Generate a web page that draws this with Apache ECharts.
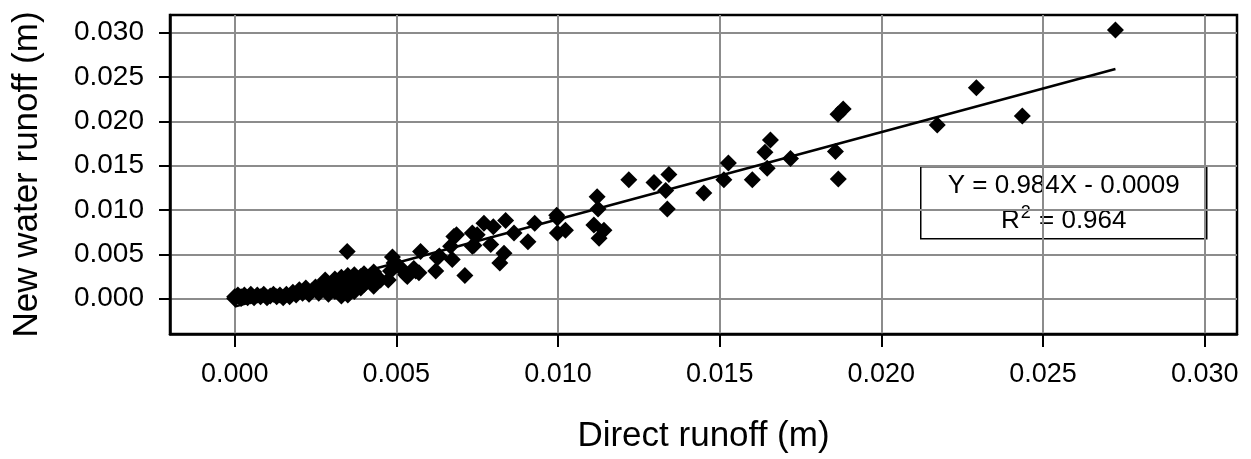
<!DOCTYPE html>
<html>
<head>
<meta charset="utf-8">
<script src="https://cdn.jsdelivr.net/npm/echarts@6.0.0/dist/echarts.min.js"></script>
<style>
  html, body { margin: 0; padding: 0; background: #fff; }
  #chart { width: 1251px; height: 459px; }
</style>
</head>
<body>
<div id="chart"></div>
<script>
// Event runoff depths (m): direct runoff vs. new-water runoff
const directRunoff = [
  0.0000, 0.0000, 0.0001, 0.0002, 0.0002, 0.0003, 0.0004, 0.0005, 0.0005, 0.0006,
  0.0007, 0.0008, 0.0009, 0.0010, 0.0011, 0.0012, 0.0013, 0.0014, 0.0015, 0.0016,
  0.0017, 0.0018, 0.0019, 0.0020, 0.0021, 0.0022, 0.0023, 0.0024, 0.0025, 0.0026,
  0.0027, 0.0028, 0.0028, 0.0029, 0.0030, 0.0031, 0.0031, 0.0032, 0.0033, 0.0033,
  0.0034, 0.0034, 0.0035, 0.0035, 0.0036, 0.0036, 0.0037, 0.0037, 0.0038, 0.0039,
  0.0039, 0.0040, 0.0040, 0.0041, 0.0042, 0.0043, 0.0043, 0.0044,
  0.00348, 0.00451, 0.00475, 0.00431, 0.00482, 0.00488, 0.00493, 0.00510, 0.00529, 0.00534,
  0.00554, 0.00560, 0.00575, 0.00570, 0.00622, 0.00627, 0.00633, 0.00668, 0.00673, 0.00686,
  0.00678, 0.00712, 0.00735, 0.00740, 0.00735, 0.00750, 0.00771, 0.00792, 0.00800, 0.00820,
  0.00833, 0.00838, 0.00864, 0.00907, 0.00928, 0.00996, 0.00998, 0.00998, 0.01023,
  0.01111, 0.01121, 0.01124, 0.01142, 0.01127, 0.01219, 0.01297, 0.01333, 0.01343, 0.01338,
  0.01451, 0.01513, 0.01527, 0.01601, 0.01640, 0.01647, 0.01657, 0.01719, 0.01858, 0.01867,
  0.01866, 0.01882, 0.02173, 0.02294, 0.02436, 0.02724
];
const newWaterRunoff = [
  0.0002, 0.0000, 0.0004, 0.0000, 0.0002, 0.0004, 0.0001, 0.0003, 0.0005, 0.0001,
  0.0004, 0.0002, 0.0005, 0.0001, 0.0003, 0.0005, 0.0002, 0.0004, 0.0001, 0.0005,
  0.0002, 0.0007, 0.0004, 0.0010, 0.0006, 0.0012, 0.0005, 0.0009, 0.0013, 0.0006,
  0.0016, 0.0010, 0.0021, 0.0005, 0.0014, 0.0022, 0.0008, 0.0017, 0.0003, 0.0024,
  0.0011, 0.0019, 0.0004, 0.0026, 0.0014, 0.0022, 0.0008, 0.0027, 0.0018, 0.0012,
  0.0025, 0.0028, 0.0016, 0.0021, 0.0026, 0.0014, 0.0030, 0.0022,
  0.0053, 0.0021, 0.0021, 0.0025, 0.0031, 0.0047, 0.0040, 0.0036, 0.0027, 0.0025,
  0.0034, 0.0031, 0.0053, 0.0029, 0.0031, 0.0046, 0.0048, 0.0059, 0.0044, 0.0072,
  0.0070, 0.0026, 0.0059, 0.0060, 0.0074, 0.0072, 0.0085, 0.0061, 0.0081, 0.0040,
  0.0051, 0.0088, 0.0074, 0.0064, 0.0085, 0.0094, 0.0091, 0.0074, 0.0077,
  0.0083, 0.0115, 0.0101, 0.0077, 0.0068, 0.0134, 0.0131, 0.0122, 0.0140, 0.0101,
  0.0119, 0.0134, 0.0153, 0.0134, 0.0165, 0.0147, 0.0179, 0.0158, 0.0166, 0.0135,
  0.0208, 0.0214, 0.0196, 0.0238, 0.0206, 0.0303
];

// Axis tick values
const xTickValues = [0, 0.005, 0.010, 0.015, 0.020, 0.025, 0.030];
const yTickValues = [0, 0.005, 0.010, 0.015, 0.020, 0.025, 0.030];

// Least-squares fit reported on the chart
const fitSlope = 0.984;
const fitIntercept = -0.0009;
const fitR2 = 0.964;

const FONT = '"Liberation Sans", Arial, Helvetica, sans-serif';

const points = directRunoff.map((x, i) => [x, newWaterRunoff[i]]);
const xMinData = Math.min(...directRunoff);
const xMaxData = Math.max(...directRunoff);
const fitLine = [
  [xMinData, fitSlope * xMinData + fitIntercept],
  [xMaxData, fitSlope * xMaxData + fitIntercept]
];

const eqText = 'Y = ' + fitSlope.toFixed(3) + 'X - ' + Math.abs(fitIntercept).toFixed(4);
const r2Text = ' = ' + fitR2.toFixed(3);

const chart = echarts.init(document.getElementById('chart'), null, { renderer: 'canvas' });

const option = {
  animation: false,
  backgroundColor: '#fff',
  grid: {
    left: 170, top: 15, right: 14, bottom: 125,
    show: true, borderColor: '#000', borderWidth: 2.5, backgroundColor: 'transparent'
  },
  xAxis: {
    type: 'value',
    min: -0.002,
    max: 0.031,
    name: 'Direct runoff (m)',
    nameLocation: 'middle',
    nameGap: 85,
    nameTextStyle: { fontSize: 35, color: '#000', fontFamily: FONT },
    axisLine: { show: true, onZero: false, lineStyle: { color: '#000', width: 2.5 } },
    axisTick: { show: true, length: 13, customValues: xTickValues, lineStyle: { color: '#000', width: 2 } },
    axisLabel: {
      customValues: xTickValues,
      formatter: v => v.toFixed(3),
      fontSize: 27, color: '#000', fontFamily: FONT, margin: 27
    },
    splitLine: { show: true, lineStyle: { color: '#8c8c8c', width: 2 } }
  },
  yAxis: {
    type: 'value',
    min: -0.004,
    max: 0.032,
    name: 'New water runoff (m)',
    nameLocation: 'middle',
    nameRotate: 90,
    nameGap: 125,
    nameTextStyle: { fontSize: 35, color: '#000', fontFamily: FONT },
    axisLine: { show: true, onZero: false, lineStyle: { color: '#000', width: 2.5 } },
    axisTick: { show: true, length: 11, customValues: yTickValues, lineStyle: { color: '#000', width: 2 } },
    axisLabel: {
      customValues: yTickValues,
      formatter: v => v.toFixed(3),
      fontSize: 28, color: '#000', fontFamily: FONT, margin: 26
    },
    splitLine: { show: true, lineStyle: { color: '#8c8c8c', width: 2 } }
  },
  series: [
    {
      type: 'line',
      data: fitLine,
      symbol: 'none',
      silent: true,
      lineStyle: { color: '#000', width: 2.5 },
      z: 3
    },
    {
      type: 'scatter',
      data: points,
      symbol: 'diamond',
      symbolSize: 17,
      itemStyle: { color: '#000', opacity: 1 },
      z: 2
    }
  ],
  graphic: {
    elements: [
      {
        type: 'group',
        left: 920,
        top: 166,
        z: 100,
        children: [
          {
            type: 'rect',
            shape: { x: 0, y: 0, width: 286, height: 72 },
            style: { fill: '#fff', stroke: '#000', lineWidth: 1.5 }
          },
          {
            type: 'text',
            x: 143,
            y: 37,
            style: {
              text: '{a|' + eqText + '}\n{a|R}{sup|2}{a|' + r2Text + '}',
              align: 'center',
              verticalAlign: 'middle',
              fill: '#000',
              rich: {
                a: { fontSize: 26, fontFamily: FONT, color: '#000', lineHeight: 35 },
                sup: { fontSize: 18, fontFamily: FONT, color: '#000', lineHeight: 18, verticalAlign: 'top', padding: [0, 1, 0, 1] }
              }
            }
          }
        ]
      }
    ]
  }
};

chart.setOption(option);
</script>
</body>
</html>
